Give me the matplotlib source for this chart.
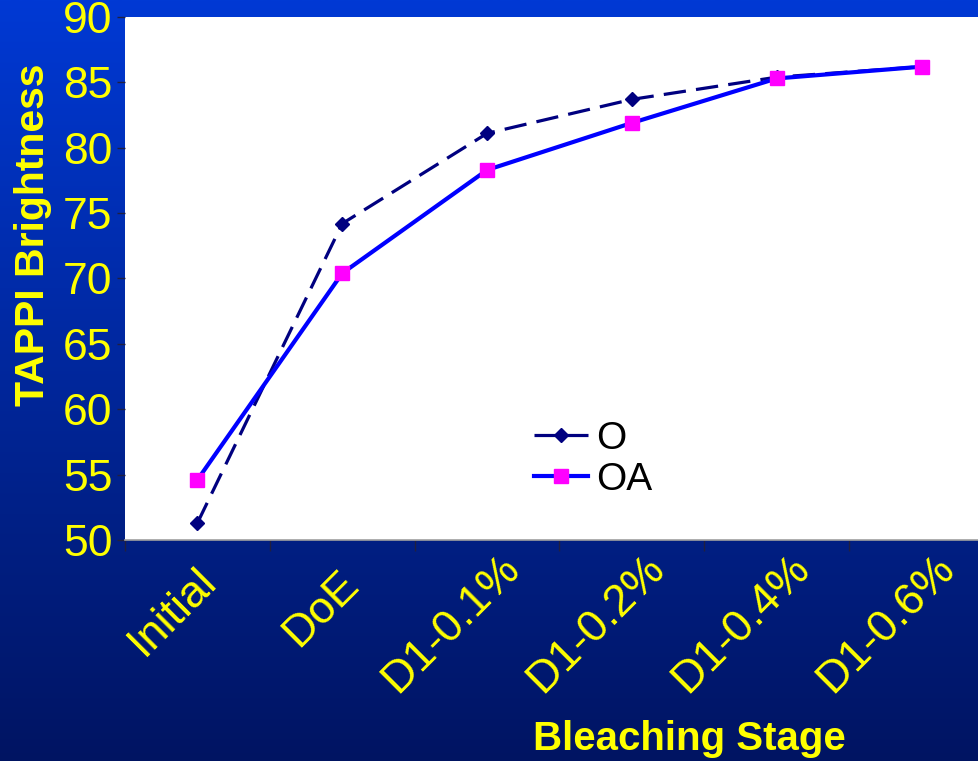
import numpy as np
import matplotlib
matplotlib.use("Agg")
import matplotlib.pyplot as plt
from matplotlib.transforms import ScaledTranslation
from matplotlib.font_manager import FontProperties

# ---- data ----
categories = ["Initial", "DoE", "D1-0.1%", "D1-0.2%", "D1-0.4%", "D1-0.6%"]
series_O = [51.3, 74.2, 81.1, 83.7, 85.4, 86.2]
series_OA = [54.6, 70.4, 78.3, 81.9, 85.3, 86.2]
y_ticks = [50, 55, 60, 65, 70, 75, 80, 85, 90]
y_label = "TAPPI Brightness"
x_label = "Bleaching Stage"

plt.rcParams['font.family'] = ['Liberation Sans', 'DejaVu Sans']

W, H = 979, 761
DPI = 100
fig = plt.figure(figsize=(W / DPI, H / DPI), dpi=DPI)

# gradient background
bg = fig.add_axes([0, 0, 1, 1], zorder=-10)
top = np.array([0, 57, 212]) / 255
bot = np.array([0, 20, 98]) / 255
t = np.linspace(0, 1, 256)[:, None]
grad = (top[None, :] * (1 - t) + bot[None, :] * t)[:, None, :]
bg.imshow(grad, aspect='auto', extent=[0, 1, 0, 1])
bg.axis('off')

left, right_px, top_px, bottom_px = 125, 994, 17, 540
ax = fig.add_axes([left / W, 1 - bottom_px / H, (right_px - left) / W, (bottom_px - top_px) / H])
ax.set_facecolor('white')

x = np.arange(len(categories))
ax.plot(x, series_O, color='#000080', lw=2.3, linestyle=(0, (7.0, 3.2)),
        marker='D', ms=6.8, mfc='#000080', mec='#000080', label='O', zorder=3)
ax.plot(x, series_OA, color='#0000FF', lw=3.0, linestyle='-',
        marker='s', ms=10, mfc='#FF00FF', mec='#FF00FF', label='OA', zorder=4)

ax.set_xlim(-0.5, len(categories) - 0.5)
ax.set_ylim(50, 90)
ax.set_yticks(y_ticks)
ax.set_yticklabels([str(v) for v in y_ticks])

for s in ['top', 'right', 'left']:
    ax.spines[s].set_visible(False)
ax.spines['bottom'].set_color('#A0A0A0')
ax.spines['bottom'].set_linewidth(1.2)

ax.tick_params(axis='y', direction='out', length=6, width=1, color='#202040',
               labelsize=32, labelcolor='#FFFF00', pad=3)
ax.set_xticks(x)
ax.set_xticks(np.arange(-0.5, len(categories), 1.0), minor=True)
XFS = 32.5
ax.tick_params(axis='x', which='major', length=0, labelsize=XFS, labelcolor='#FFFF00', pad=0)
ax.tick_params(axis='x', which='minor', length=8, width=1, color='#202040', direction='out')
ax.set_xticklabels(categories, rotation=45, ha='right', va='baseline', rotation_mode='anchor')

# place rotated labels: baseline-right end shifted along text direction by part of its length
renderer = fig.canvas.get_renderer()
fp = FontProperties(family=['Liberation Sans'], size=XFS)
for lab in ax.get_xticklabels():
    w, h, d = renderer.get_text_width_height_descent(lab.get_text(), fp, ismath=False)
    s = 0.27 * w * 0.7071
    dx_px = 1 + s
    dy_px = -(63 - s)
    lab.set_transform(lab.get_transform() +
                      ScaledTranslation(dx_px / DPI, dy_px / DPI, fig.dpi_scale_trans))

fig.text(33 / W, 1 - 235 / H, y_label, rotation=90, ha='center', va='center',
         fontsize=29.5, fontweight='bold', color='#FFFF00')
fig.text(689 / W, 1 - 739 / H, x_label, ha='center', va='center',
         fontsize=29, fontweight='bold', color='#FFFF00')

leg = ax.legend(loc='upper left', bbox_to_anchor=(534 / W, 1 - 421 / H),
                bbox_transform=fig.transFigure, frameon=False, fontsize=28,
                handlelength=1.4, handletextpad=0.2, labelspacing=0.12,
                borderpad=0, borderaxespad=0, labelcolor='black')

fig.savefig('out.png', dpi=DPI)
